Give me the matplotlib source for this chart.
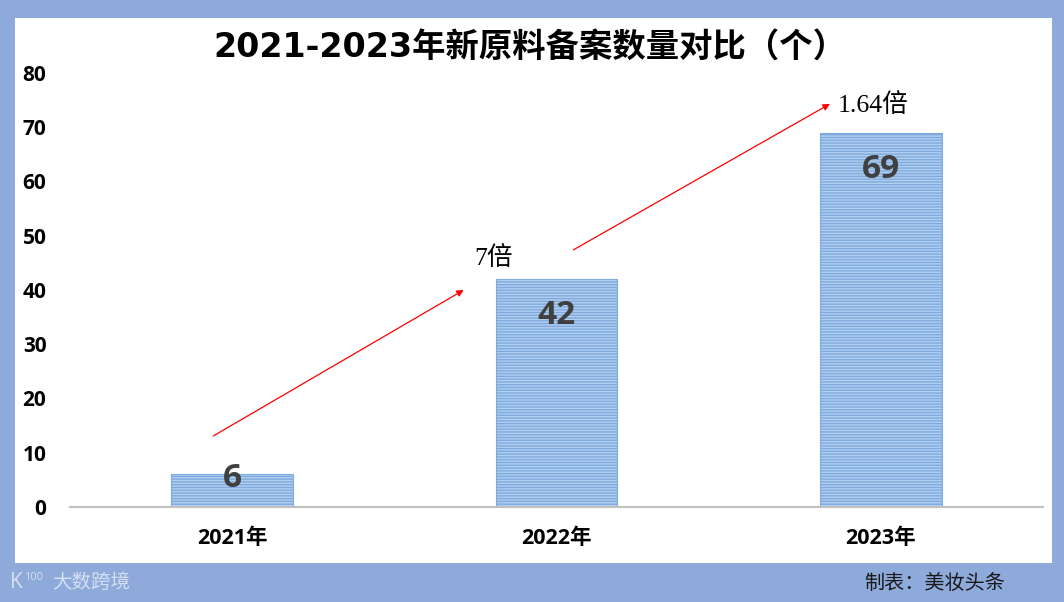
import matplotlib
matplotlib.use("Agg")
import matplotlib.pyplot as plt
from matplotlib.patches import Rectangle

years = ["2021年", "2022年", "2023年"]
counts = [6, 42, 69]
yticks = [0, 10, 20, 30, 40, 50, 60, 70, 80]
title = "2021-2023年新原料备案数量对比（个）"
growth_labels = ["7倍", "1.64倍"]
# arrow start/end points (x in category units, y in data units)
arrows = [((-0.058, 13.1), (0.714, 40.0)), ((1.052, 47.4), (1.843, 74.3))]
growth_pos = [(0.745, 45.9), (1.868, 74.1)]

plt.rcParams['hatch.linewidth'] = 1.0
plt.rcParams['hatch.color'] = '#6f9fd8'

SANS = ['Open Sans', 'Noto Sans CJK SC', 'DejaVu Sans']
WIDE = ['DejaVu Sans', 'Noto Sans CJK SC']
CJK = ['Noto Sans CJK SC', 'DejaVu Sans']
SERIF = ['Liberation Serif', 'Noto Sans CJK SC']

fig = plt.figure(figsize=(10.64, 6.02), dpi=100)
fig.patch.set_facecolor('#8eaadb')
fig.patches.append(Rectangle((15/1064, 1-563/602), (1052-15)/1064, (563-18)/602,
                             transform=fig.transFigure, facecolor='white',
                             edgecolor='none', zorder=-5))

ax = fig.add_axes([70/1064, 1-507/602, (1043-70)/1064, (507-73)/602])
ax.set_zorder(2)
ax.set_facecolor('none')
x = list(range(len(years)))
bars = ax.bar(x, counts, width=0.375, color='#b3cfee', edgecolor='#7eaadf',
              linewidth=0.8, hatch='------', zorder=2)

for xi, v in zip(x, counts):
    ax.text(xi, max(v - 6.7, 5.3), str(v), ha='center', va='center',
            fontsize=24, fontweight='bold', color='#404040', family=SANS, zorder=3)

ax.set_xlim(-0.5, 2.5)
ax.set_ylim(0, 80)
ax.set_yticks(yticks)
ax.set_yticklabels([str(t) for t in yticks], fontsize=15, fontweight='bold', family=SANS)
ax.set_xticks(x)
ax.set_xticklabels(years, fontsize=15.5, fontweight='bold', family=SANS)
ax.tick_params(axis='both', length=0)
ax.tick_params(axis='y', pad=17)
ax.tick_params(axis='x', pad=15)
for s in ['top', 'right', 'left']:
    ax.spines[s].set_visible(False)
ax.spines['bottom'].set_color('#bfbfbf')
ax.spines['bottom'].set_linewidth(1.5)

for (p0, p1) in arrows:
    ax.annotate('', xy=p1, xytext=p0,
                arrowprops=dict(arrowstyle='-|>', color='#ff0000', lw=0.9,
                                mutation_scale=10, shrinkA=0, shrinkB=0))
for lab, (gx, gy) in zip(growth_labels, growth_pos):
    ax.text(gx, gy, lab, ha='left', va='center', fontsize=18.5, family=SERIF, color='black')

fig.text(530/1064, 1-48/602, title, ha='center', va='center', fontsize=24,
         fontweight='bold', family=WIDE, color='black', zorder=3)

fig.text(935/1064, 1-583/602, "制表：美妆头条", ha='center', va='center',
         fontsize=14.5, family=CJK, color='#1a1a1a')
fig.text(52/1064, 1-582/602, "大数跨境", ha='left', va='center',
         fontsize=14, family=CJK, color='#dfe6f4', alpha=0.9)
fig.text(10/1064, 1-582/602, "K", ha='left', va='center',
         fontsize=15, family=SANS, color='#dfe6f4', alpha=0.9)
fig.text(24/1064, 1-577/602, "100", ha='left', va='center',
         fontsize=8, family=SANS, color='#dfe6f4', alpha=0.9)

fig.savefig('out.png', dpi=100, facecolor=fig.get_facecolor())
